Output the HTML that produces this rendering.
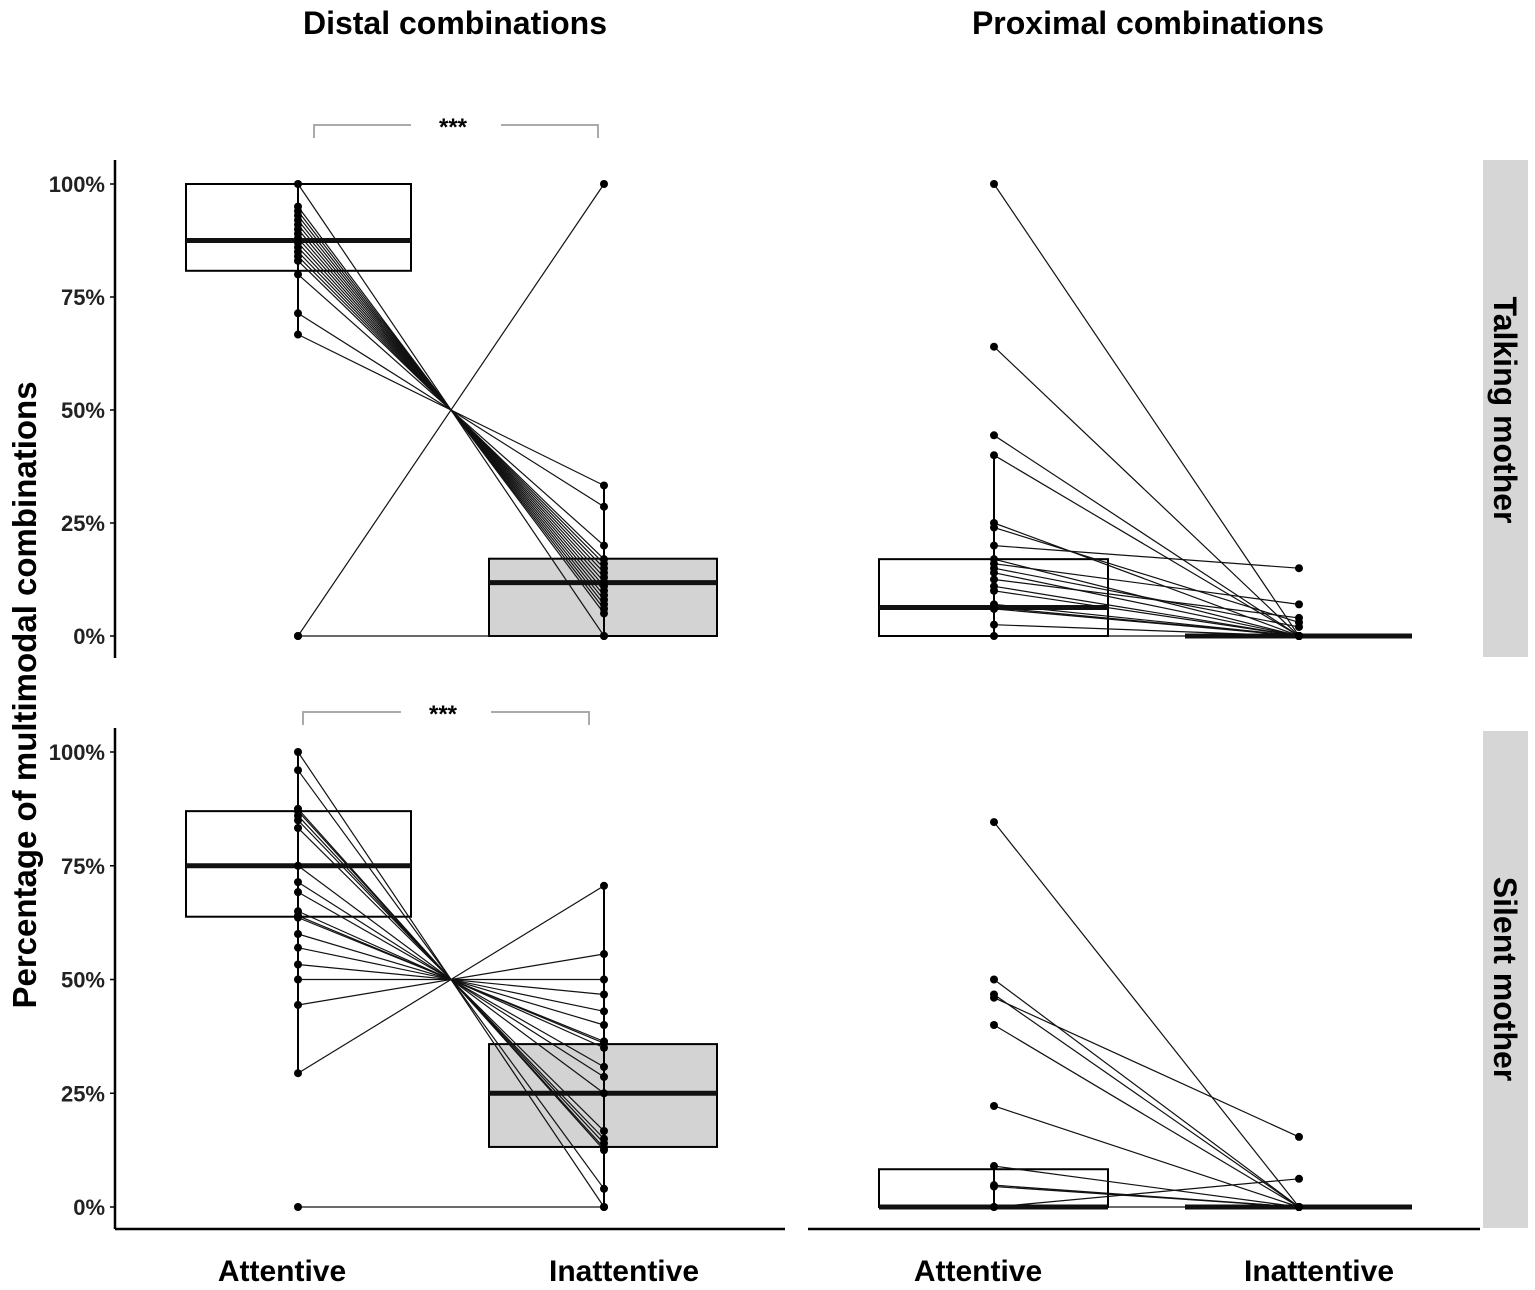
<!DOCTYPE html>
<html><head><meta charset="utf-8"><style>
body{margin:0;background:#fff;}
svg{display:block;font-family:"Liberation Sans",sans-serif;}
</style></head><body>
<svg id="chart" width="1535" height="1290" viewBox="0 0 1535 1290">
<text x="455" y="34" font-size="32" font-weight="bold" text-anchor="middle">Distal combinations</text>
<text x="1148" y="34" font-size="32" font-weight="bold" text-anchor="middle">Proximal combinations</text>
<text transform="translate(36,695) rotate(-90)" font-size="33" font-weight="bold" text-anchor="middle">Percentage of multimodal combinations</text>
<rect x="1483" y="160" width="45" height="497" fill="#d6d6d6"/>
<text transform="translate(1494,410) rotate(90)" font-size="32" font-weight="bold" text-anchor="middle">Talking mother</text>
<rect x="1483" y="731" width="45" height="497" fill="#d6d6d6"/>
<text transform="translate(1494,979) rotate(90)" font-size="32" font-weight="bold" text-anchor="middle">Silent mother</text>
<g id="plots"></g>
</svg>
<script>
// Distal talking: attentive / inattentive pairs
const distalTalkAtt = [100,95,94,93,92,91,90,89,88,87,86,85,84,83,80,71.4,66.7,0,0];
const distalTalkInat = [0,5,6,7,8,9,10,11,12,13,14,15,16,17,20,28.6,33.3,100,0];
const distalTalkBox = {att:[80.8,87.5,100], inat:[0,11.8,17.1]};
const distalTalkWhisk = {att:[66.7,100], inat:[0,33.3]};
// Distal silent
const distalSilAtt = [100,96,87.5,87,86,85,83.3,75,71.4,69.2,65,64,63.6,60,57,53.3,50,44.4,29.4,0];
const distalSilInat = [0,4,12.5,13,14,15,16.7,25,28.6,30.8,35,36,36.4,40,43,46.7,50,55.6,70.6,0];
const distalSilBox = {att:[63.8,75,87], inat:[13.2,25,35.8]};
const distalSilWhisk = {att:[29.4,100], inat:[0,70.6]};
// Proximal talking
const proxTalkAtt = [100,64,44.4,40,25,24,20,17,16,15,14,12.5,11,10,7,6.3,6,2.5,0];
const proxTalkInat = [0,0,0,0,0,3,15,0,7,2,0,4,0,0,0,0,0,0,0];
const proxTalkBox = {att:[0,6.3,17], inat:[0,0,0]};
const proxTalkWhisk = {att:[0,40], inat:[0,0]};
// Proximal silent
const proxSilAtt = [84.6,50,46.7,46,40,22.2,9,4.8,4.5,0,0];
const proxSilInat = [0,0,0,15.4,0,0,0,0,0,6.2,0];
const proxSilBox = {att:[0,0,8.3], inat:[0,0,0]};
const proxSilWhisk = {att:[0,9], inat:[0,0]};
const yTicks = [0,25,50,75,100];
const yTickLabels = ["0%","25%","50%","75%","100%"];
const xCats = ["Attentive","Inattentive"];

const NS="http://www.w3.org/2000/svg";
const root=document.getElementById('plots');
function mk(tag,attrs,parent){const e=document.createElementNS(NS,tag);for(const k in attrs)e.setAttribute(k,attrs[k]);(parent||root).appendChild(e);return e;}

const panels=[
 {att:distalTalkAtt,inat:distalTalkInat,box:distalTalkBox,wh:distalTalkWhisk,xa:298,xi:604,y0:636,y100:184,yaxis:true,xaxis:false,name:'distal-talking',fill:'#d3d3d3',bx:[186,411,489,717]},
 {att:proxTalkAtt,inat:proxTalkInat,box:proxTalkBox,wh:proxTalkWhisk,xa:994,xi:1299,y0:636,y100:184,yaxis:false,xaxis:false,name:'proximal-talking',fill:'#fff',bx:[879,1108,1185,1412]},
 {att:distalSilAtt,inat:distalSilInat,box:distalSilBox,wh:distalSilWhisk,xa:298,xi:604,y0:1207,y100:752,yaxis:true,xaxis:true,name:'distal-silent',fill:'#d3d3d3',bx:[186,411,489,717]},
 {att:proxSilAtt,inat:proxSilInat,box:proxSilBox,wh:proxSilWhisk,xa:994,xi:1299,y0:1207,y100:752,yaxis:false,xaxis:true,name:'proximal-silent',fill:'#fff',bx:[879,1108,1185,1412]}
];
panels.forEach(p=>{
 const y=v=>p.y0+(p.y100-p.y0)*v/100;
 const g=mk('g',{});
 
 
 if(p.yaxis){
  const ax=mk('line',{x1:115,x2:115,y1:p.y100-24,y2:p.y0+22,stroke:'#000','stroke-width':2.5},g);
  
  
  yTicks.forEach((t,i)=>{
   mk('line',{x1:110,x2:115,y1:y(t),y2:y(t),stroke:'#000','stroke-width':1.5},g);
   const tx=mk('text',{x:105,y:y(t)+8,'font-size':22,'font-weight':'bold','text-anchor':'end',fill:'#222'},g);
   tx.textContent=yTickLabels[i];
   
   
  });
 }
 if(p.xaxis){
  const x1=p.yaxis?115:808, x2=p.yaxis?785:1480;
  const ax=mk('line',{x1:x1,x2:x2,y1:1229,y2:1229,stroke:'#000','stroke-width':2.5},g);
  
  
  [p.xa,p.xi].forEach((xx,i)=>{
   const tx=mk('text',{x:xx-(i==0?16:-20),y:1281,'font-size':30,'font-weight':'bold','text-anchor':'middle'},g);
   tx.textContent=xCats[i];
   
   
  });
 }
 [[p.box.att,p.bx[0],p.bx[1],'#fff','box-attentive'],[p.box.inat,p.bx[2],p.bx[3],p.fill,'box-inattentive']].forEach(b=>{
  const q=b[0];
  const r=mk('rect',{x:b[1],y:y(q[2]),width:b[2]-b[1],height:Math.max(0,y(q[0])-y(q[2])),fill:b[3],stroke:'#000','stroke-width':2},g);
  
  
  const m=mk('line',{x1:b[1],x2:b[2],y1:y(q[1]),y2:y(q[1]),stroke:'#111','stroke-width':5},g);
  
  
 });
 const w1=mk('line',{x1:p.xa,x2:p.xa,y1:y(p.wh.att[0]),y2:y(p.wh.att[1]),stroke:'#000','stroke-width':2},g);
 
 
 const w2=mk('line',{x1:p.xi,x2:p.xi,y1:y(p.wh.inat[0]),y2:y(p.wh.inat[1]),stroke:'#000','stroke-width':2},g);
 
 
 p.att.forEach((a,i)=>{
  const l=mk('line',{x1:p.xa,y1:y(a),x2:p.xi,y2:y(p.inat[i]),stroke:'#111','stroke-width':1.2},g);
  
  
 });
 p.att.forEach((a,i)=>{
  const c1=mk('circle',{cx:p.xa,cy:y(a),r:4,fill:'#000'},g);
  
  
  const c2=mk('circle',{cx:p.xi,cy:y(p.inat[i]),r:4,fill:'#000'},g);
  
  
 });
});
[[314,598,125,138],[303,589,712,725]].forEach(b=>{
 const g=mk('g',{});
 
 
 const mid=(b[0]+b[1])/2;
 mk('path',{d:`M${b[0]},${b[3]} V${b[2]} H${mid-45} M${mid+45},${b[2]} H${b[1]} V${b[3]}`,fill:'none',stroke:'#aaa','stroke-width':2},g);
 const t=mk('text',{x:mid-3,y:b[2]+10,'font-size':24,'font-weight':'bold','text-anchor':'middle'},g);
 t.textContent='***';
});
</script>
</body></html>
